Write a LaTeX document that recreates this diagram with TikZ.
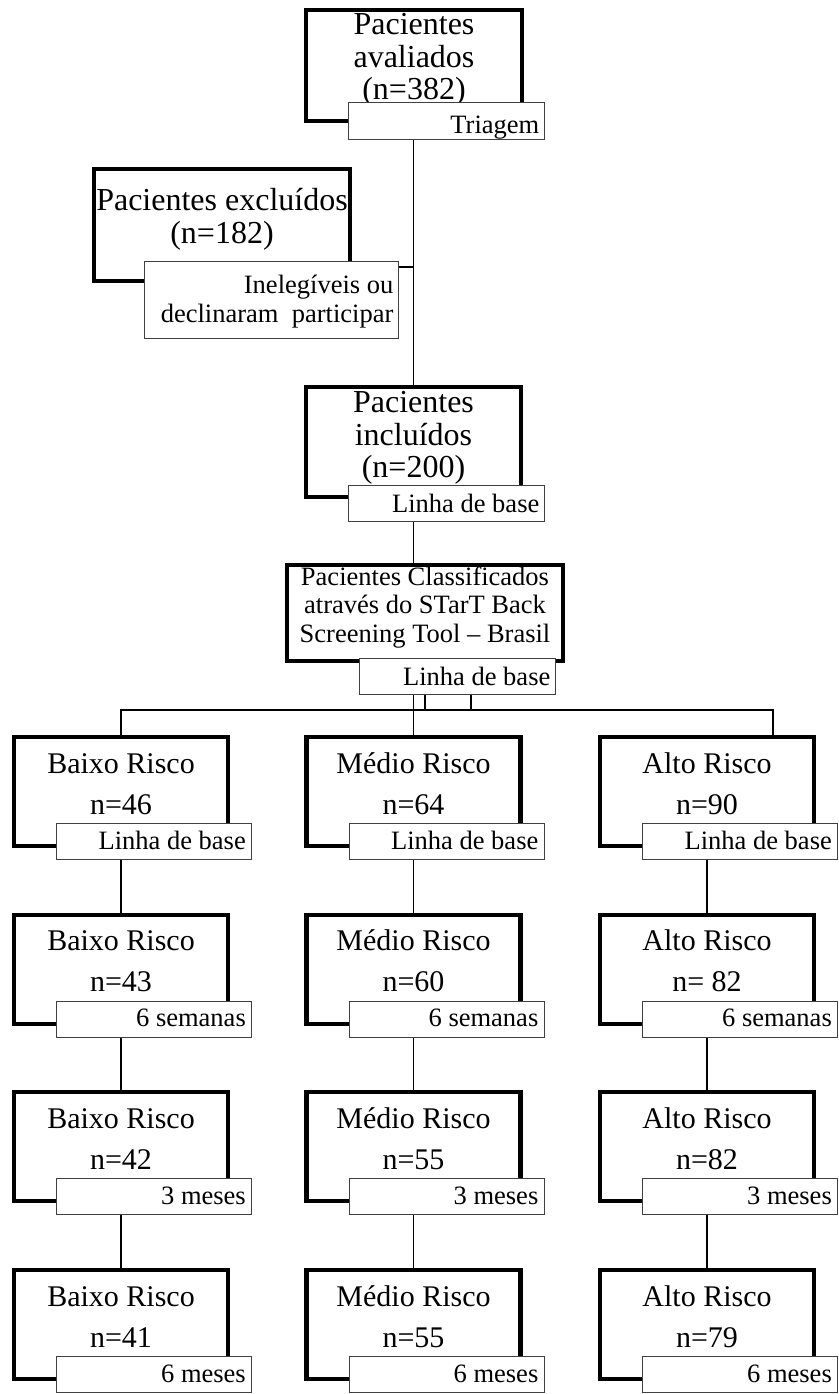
\documentclass[tikz,border=0pt]{standalone}
\usepackage{fontspec}
\setmainfont{Liberation Serif}
\tikzset{
  thickbox/.style={draw=black, line width=4.2pt, fill=white, inner sep=0pt, rectangle},
  lblbox/.style={draw=black!75, line width=1.1pt, fill=white, inner sep=0pt, rectangle},
  conn/.style={draw=black, line width=1.4pt},
  bigtxt/.style={font=\fontsize{32}{34}\selectfont, inner sep=0pt, anchor=base},
  rowtxt/.style={font=\fontsize{30}{32}\selectfont, inner sep=0pt, anchor=base},
  clstxt/.style={font=\fontsize{26.5}{28}\selectfont, inner sep=0pt, anchor=base},
  lbltxt/.style={font=\fontsize{26.5}{28}\selectfont, inner sep=0pt, anchor=base east},
}
\begin{document}
\begin{tikzpicture}[x=1pt,y=-1pt]
\useasboundingbox (0,0) rectangle (838,1394);
\fill[white] (0,0) rectangle (838,1394);

% ---- Pacientes avaliados
\node[thickbox, minimum width=216, minimum height=111, anchor=north west] (b0) at (304,8) {};
\node[bigtxt] (t0a) at (414,35) {Pacientes};
\node[bigtxt] (t0b) at (414,67.5) {avaliados};
\node[bigtxt] (t0c) at (414,100) {(n=382)};
\node[lblbox, minimum width=196, minimum height=37, anchor=north west] (l0) at (348,102) {};
\node[lbltxt] (lt0) at (539.5,134) {Triagem};

% ---- Pacientes excluidos
\node[thickbox, minimum width=256, minimum height=112, anchor=north west] (ex) at (92,167) {};
\node[bigtxt] (tea) at (222,210) {Pacientes excluídos};
\node[bigtxt] (teb) at (222,243) {(n=182)};
\node[lblbox, minimum width=254, minimum height=77, anchor=north west] (exl) at (144,261) {};
\node[lbltxt] (lea) at (393.5,293) {Inelegíveis ou};
\node[lbltxt] (leb) at (393.5,322) {declinaram\ \ participar};

% ---- Pacientes incluidos
\node[thickbox, minimum width=215, minimum height=110, anchor=north west] (inc) at (304,385) {};
\node[bigtxt] (tia) at (413.5,412) {Pacientes};
\node[bigtxt] (tib) at (413.5,445) {incluídos};
\node[bigtxt] (tic) at (413.5,477) {(n=200)};
\node[lblbox, minimum width=196, minimum height=36, anchor=north west] (incl) at (348,485) {};
\node[lbltxt] (lti) at (539.5,512) {Linha de base};

% ---- Classificados
\node[thickbox, minimum width=276, minimum height=96, anchor=north west] (cls) at (285,563) {};
\node[clstxt] (tca) at (425,585) {Pacientes Classificados};
\node[clstxt] (tcb) at (425,613.5) {através do STarT Back};
\node[clstxt] (tcc) at (425,642) {Screening Tool – Brasil};
\node[lblbox, minimum width=196, minimum height=36, anchor=north west] (clsl) at (359,658) {};
\node[lbltxt] (ltc) at (550.5,685) {Linha de base};

% ---- risk boxes
\foreach \r/\c/\cx/\ty/\ttl/\n/\lab in {
  1/1/121/735/Baixo Risco/46/Linha de base,
  1/2/413.5/735/Médio Risco/64/Linha de base,
  1/3/707/735/Alto Risco/90/Linha de base,
  2/1/121/912.5/Baixo Risco/43/6 semanas,
  2/2/413.5/912.5/Médio Risco/60/6 semanas,
  2/3/707/912.5/Alto Risco/{\ 82}/6 semanas,
  3/1/121/1090/Baixo Risco/42/3 meses,
  3/2/413.5/1090/Médio Risco/55/3 meses,
  3/3/707/1090/Alto Risco/82/3 meses,
  4/1/121/1268/Baixo Risco/41/6 meses,
  4/2/413.5/1268/Médio Risco/55/6 meses,
  4/3/707/1268/Alto Risco/79/6 meses}
{
  \node[thickbox, minimum width=214, minimum height=109, anchor=north] (b\r\c) at (\cx,\ty) {};
  \node[rowtxt] (ta\r\c) at (\cx,\ty+38) {\ttl};
  \node[rowtxt] (tn\r\c) at (\cx,\ty+79) {n=\n};
  \node[lblbox, minimum width=195, minimum height=36, anchor=north west] (l\r\c) at (\cx-65,\ty+88) {};
  \node[lbltxt] (lt\r\c) at (\cx+125,\ty+114) {\lab};
}

% ---- connectors
\draw[conn] (inc.north |- l0.south) -- (inc.north);
\coordinate (j) at (413.5,267);
\draw[conn] (exl.east |- j) -- (j);
\draw[conn] (inc.north |- incl.south) -- (inc.north |- cls.north);
\draw[conn] (b12.north |- clsl.south) -- (b12.north);
\coordinate (hR) at (773,710);
\draw[conn] (b11.north) |- (hR) -- (hR |- b13.north);
\coordinate (k1) at (425,710);
\coordinate (k2) at (471,710);
\draw[conn] (k1 |- clsl.south) -- (k1) -- (k2) -- (k2 |- clsl.south);

\foreach \r/\s in {1/2,2/3,3/4}{
  \foreach \c in {1,2,3}{
    \draw[conn] (b\r\c.north |- l\r\c.south) -- (b\s\c.north);
  }
}
\end{tikzpicture}
\end{document}
